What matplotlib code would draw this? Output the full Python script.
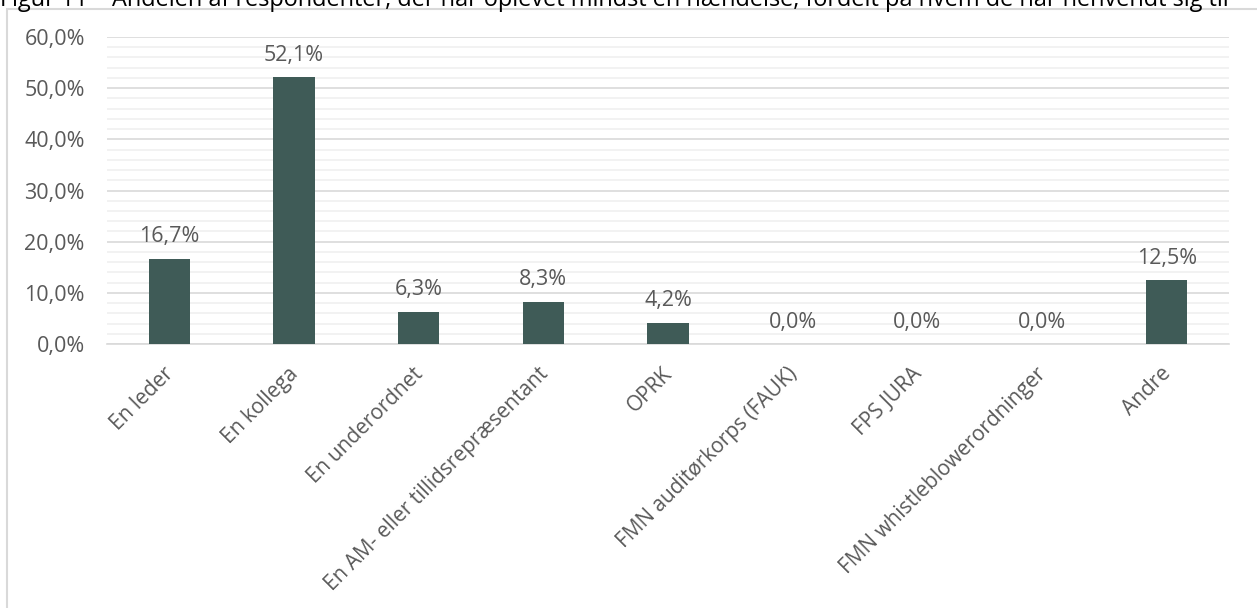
import matplotlib.pyplot as plt
from matplotlib.ticker import MultipleLocator, FuncFormatter
from matplotlib.patches import Rectangle
from matplotlib.transforms import ScaledTranslation

categories = ["En leder", "En kollega", "En underordnet",
              "En AM- eller tillidsrepræsentant", "OPRK",
              "FMN auditørkorps (FAUK)", "FPS JURA",
              "FMN whistleblowerordninger", "Andre"]
values = [16.7, 52.1, 6.3, 8.3, 4.2, 0.0, 0.0, 0.0, 12.5]
title = ("Figur 11 – Andelen af respondenter, der har oplevet mindst én hændelse, "
         "fordelt på hvem de har henvendt sig til")

plt.rcParams['font.family'] = ['Open Sans', 'DejaVu Sans']
text_col = '#595959'
bar_col = '#3F5B57'
fs = 15.5

fig = plt.figure(figsize=(12.57, 6.08), dpi=100)
ax = fig.add_axes([107/1257, 1 - 344/608, 1122/1257, 307/608])

x = range(len(categories))
ax.bar(x, values, width=0.33, color=bar_col, zorder=3)
for i, v in zip(x, values):
    ax.text(i, v + 3.2, f"{v:.1f}%".replace('.', ','), ha='center', va='baseline',
            fontsize=fs, color=text_col)

ax.set_xlim(-0.5, len(categories) - 0.5)
ax.set_ylim(0, 60)
ax.yaxis.set_major_locator(MultipleLocator(10))
ax.yaxis.set_minor_locator(MultipleLocator(2))
ax.yaxis.set_major_formatter(FuncFormatter(lambda v, p: f"{v:.1f}%".replace('.', ',')))
ax.grid(axis='y', which='major', color='#d9d9d9', linewidth=1.2, zorder=0)
ax.grid(axis='y', which='minor', color='#f0f0f0', linewidth=1.2, zorder=0)
for s in ['top', 'right', 'left']:
    ax.spines[s].set_visible(False)
ax.spines['bottom'].set_color('#d9d9d9')
ax.spines['bottom'].set_linewidth(1.2)
ax.tick_params(axis='both', which='both', length=0, colors=text_col, labelsize=fs)
ax.tick_params(axis='y', pad=16)
ax.set_xticks(list(x))
ax.set_xticklabels(categories, rotation=45, ha='right', va='top', rotation_mode='anchor',
                   fontsize=15)
ax.tick_params(axis='x', pad=14)
shift = ScaledTranslation(-6/100, 0, fig.dpi_scale_trans)
for lab in ax.get_xticklabels():
    lab.set_transform(lab.get_transform() + shift)

# chart frame
fig.patches.append(Rectangle((7/1257, -0.1), 1.2, 1 - 9/608 + 0.1,
                             transform=fig.transFigure, fill=False,
                             edgecolor='#d9d9d9', linewidth=1.5))
fig.text(0.0, 1 - 6/608, title, ha='left', va='baseline', fontsize=16.9, color='#000000')

fig.savefig("out.png", dpi=100)
